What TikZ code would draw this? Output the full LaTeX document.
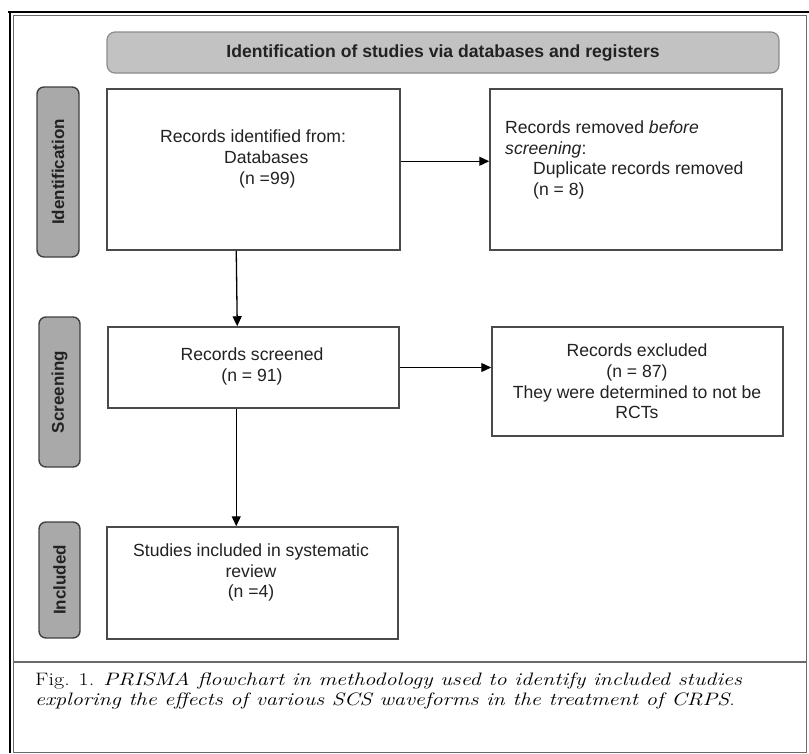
\documentclass[tikz,border=0pt]{standalone}
\usepackage{fontspec}
\setsansfont{Liberation Sans}
\usepackage{tikz}
\usetikzlibrary{arrows.meta}
\usetikzlibrary{positioning}
\definecolor{boxline}{HTML}{4A4A4A}
\definecolor{tabline}{HTML}{404040}
\definecolor{tabfill}{HTML}{A9A9A9}
\definecolor{headfill}{HTML}{C2C2C2}
\definecolor{headline}{HTML}{8C8C8C}
\definecolor{framegray}{HTML}{6A6A6A}
\definecolor{inkgray}{HTML}{222222}
\tikzset{box/.style = {draw = boxline, line width = 1.5, fill = white, inner sep = 0}}
\tikzset{tab/.style = {draw = tabline, fill = tabfill, line width = 1.4, rounded corners = 7,
                       rotate = 90, inner sep = 0, text = inkgray,
                       font = \sffamily\bfseries\fontsize{17}{20}\selectfont}}
\tikzset{txt/.style = {inner sep = 0, text = inkgray, align = center,
                       font = \sffamily\fontsize{17.6}{20.6}\selectfont}}
\tikzset{capt/.style = {inner sep = 0, align = left, xscale = 1.23, transform shape,
                        font = \rmfamily\fontsize{18}{20}\selectfont}}
\tikzset{arr/.style = {-{Triangle[length = 10pt, width = 9pt]}, line width = 1.3}}

\begin{document}
\begin{tikzpicture}[x = 1pt, y = -1pt]
      \useasboundingbox (0, 0) rectangle (809, 753);
      \draw [line width = 2.6] (8, 12) -- (809, 12);
      \draw [line width = 2.6] (10, 11) -- (10, 753);
      \draw [framegray, line width = 1] (13, 15) rectangle (806, 752);
      \draw [framegray, line width = 1.6] (13, 662) -- (806, 662);

      \node (head) at (443, 52.5) [draw = headline, fill = headfill, line width = 1.2, rounded corners = 8,
                                   minimum width = 672, minimum height = 41, inner sep = 0, text = inkgray,
                                   font = \sffamily\bfseries\fontsize{17.6}{20}\selectfont]
            {Identification of studies via databases and registers};

      \node (tabid) at (58, 172) [tab, minimum width = 170, minimum height = 42] {Identification};
      \node (tabscr) at (59.5, 392) [tab, minimum width = 150, minimum height = 41] {Screening};
      \node (tabinc) at (59.5, 580) [tab, minimum width = 116, minimum height = 41] {Included};

      \node (ident) at (253.5, 169.5) [box, minimum width = 293, minimum height = 161] {};
      \node (removed) at (636, 169.5) [box, minimum width = 292, minimum height = 161] {};
      \node (screened) at (253.5, 367.5) [box, minimum width = 291, minimum height = 81] {};
      \node (excluded) at (637.5, 381.5) [box, minimum width = 291, minimum height = 109] {};
      \node (included) at (252.5, 583) [box, minimum width = 291, minimum height = 112] {};

      \node (identtxt) at (160, 159) [txt, anchor = west, align = left]
            {Records identified from:\\\hspace*{64pt}Databases\\\hspace*{79pt}(n =99)};
      \node (removedtxt) at (505, 160) [txt, anchor = west, align = left]
            {Records removed \textit{before}\\\textit{screening}:\\\hspace*{28pt}Duplicate records removed\\\hspace*{28pt}(n = 8)};
      \node (screenedtxt) at (252, 366.5) [txt] {Records screened\\(n = 91)};
      \node (excludedtxt) at (637, 381.5) [txt] {Records excluded\\(n = 87)\\They were determined to not be\\RCTs};
      \node (includedtxt) at (251, 572.5) [txt] {Studies included in systematic\\review\\(n =4)};

      \draw [arr] ([xshift = 130]ident.south west) -- ([xshift = 130]screened.north west);
      \draw [arr] ([yshift = -73]ident.north east) -- ([yshift = -73]removed.north west);
      \draw [arr] (screened.east) -- (screened.east -| excluded.west);
      \draw [arr] ([xshift = 129]screened.south west) -- ([xshift = 130]included.north west);

      \node (caption) at (35, 705) [capt, anchor = base west]
            {Fig. 1. \textit{PRISMA flowchart in methodology used to identify included studies}\\
             \textit{exploring the effects of various SCS waveforms in the treatment of CRPS}.};
\end{tikzpicture}
\end{document}
